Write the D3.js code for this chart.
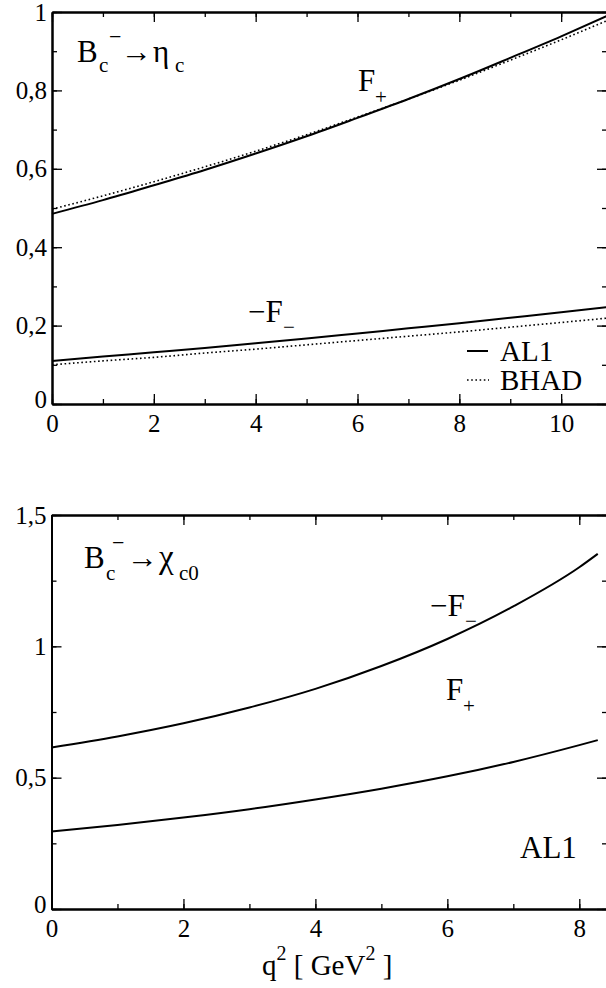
<!DOCTYPE html>
<html>
<head>
<meta charset="utf-8">
<script src="https://cdn.jsdelivr.net/npm/d3@7/dist/d3.min.js"></script>
<style>
  html, body { margin: 0; padding: 0; background: #fff; }
</style>
</head>
<body>
<svg id="chart" width="606" height="988"></svg>
<script>
// Form factors versus q^2 for Bc -> eta_c (top) and Bc -> chi_c0 (bottom)
const q2Top = [0, 1, 2, 3, 4, 5, 6, 7, 8, 9, 10, 10.9];
const etaFplusAL1   = [0.485, 0.520, 0.558, 0.597, 0.639, 0.683, 0.730, 0.778, 0.829, 0.883, 0.938, 0.990];
const etaFplusBHAD  = [0.497, 0.531, 0.567, 0.605, 0.645, 0.687, 0.732, 0.778, 0.826, 0.877, 0.929, 0.978];
const etaFminusAL1  = [0.110, 0.121, 0.132, 0.143, 0.155, 0.167, 0.180, 0.193, 0.206, 0.220, 0.234, 0.247];
const etaFminusBHAD = [0.100, 0.110, 0.119, 0.130, 0.140, 0.151, 0.162, 0.173, 0.184, 0.196, 0.208, 0.219];

const q2Bottom = [0, 1, 2, 3, 4, 5, 6, 7, 8, 8.28];
const chiFminusAL1 = [0.615, 0.657, 0.707, 0.767, 0.838, 0.925, 1.028, 1.152, 1.301, 1.352];
const chiFplusAL1  = [0.295, 0.320, 0.348, 0.380, 0.417, 0.458, 0.505, 0.560, 0.624, 0.643];

const topXTicks = [0, 2, 4, 6, 8, 10];
const topYTicks = [0, 0.2, 0.4, 0.6, 0.8, 1];
const bottomXTicks = [0, 2, 4, 6, 8];
const bottomYTicks = [0, 0.5, 1, 1.5];

const FONT = '"Liberation Serif"';
const svg = d3.select("#chart");
const fmt = v => String(v).replace(".", ",");

function panel(o) {
  const x = d3.scaleLinear().domain(o.xDomain).range([o.left, o.right]);
  const y = d3.scaleLinear().domain(o.yDomain).range([o.bottom, o.top]);
  const g = svg.append("g");

  const styleAxis = sel => {
    sel.attr("font-family", null).attr("font-size", null);
    sel.selectAll("path.domain").attr("stroke", "#000").attr("stroke-width", 2);
    sel.selectAll(".tick line").attr("stroke", "#000").attr("stroke-width", 1.3);
    sel.selectAll(".tick text").style("font-family", FONT).style("font-size", "25px").attr("fill", "#000");
  };

  // minor ticks on all four sides
  const minX = d3.range(o.xDomain[0], o.xDomain[1] + 1e-9, o.xMinor);
  const minY = d3.range(o.yDomain[0], o.yDomain[1] + 1e-9, o.yMinor);
  [[d3.axisBottom(x), o.bottom], [d3.axisTop(x), o.top]].forEach(([ax, pos]) => {
    g.append("g").attr("transform", `translate(0,${pos})`)
      .call(ax.tickValues(minX).tickSizeInner(-5).tickSizeOuter(0).tickFormat(""))
      .call(styleAxis);
  });
  [[d3.axisLeft(y), o.left], [d3.axisRight(y), o.right]].forEach(([ax, pos]) => {
    g.append("g").attr("transform", `translate(${pos},0)`)
      .call(ax.tickValues(minY).tickSizeInner(-5).tickSizeOuter(0).tickFormat(""))
      .call(styleAxis);
  });

  // major ticks
  g.append("g").attr("transform", `translate(0,${o.bottom})`)
    .call(d3.axisBottom(x).tickValues(o.xTicks).tickSizeInner(-10).tickSizeOuter(0).tickPadding(10).tickFormat(fmt))
    .call(styleAxis);
  g.append("g").attr("transform", `translate(0,${o.top})`)
    .call(d3.axisTop(x).tickValues(o.xTicks).tickSizeInner(-10).tickSizeOuter(0).tickFormat(""))
    .call(styleAxis);
  const yAx = g.append("g").attr("transform", `translate(${o.left},0)`)
    .call(d3.axisLeft(y).tickValues(o.yTicks).tickSizeInner(-10).tickSizeOuter(0).tickPadding(5).tickFormat(fmt))
    .call(styleAxis);
  g.append("g").attr("transform", `translate(${o.right},0)`)
    .call(d3.axisRight(y).tickValues(o.yTicks).tickSizeInner(-10).tickSizeOuter(0).tickFormat(""))
    .call(styleAxis);

  // the y "0" label sits slightly raised in the corner
  yAx.selectAll(".tick text").filter(d => d === 0).attr("dy", "0.15em");

  const line = d3.line().x(d => x(d[0])).y(d => y(d[1])).curve(d3.curveMonotoneX);
  o.series.forEach(s => {
    g.append("path")
      .datum(s.q2.map((q, i) => [q, s.values[i]]))
      .attr("d", line)
      .attr("fill", "none")
      .attr("stroke", "#000")
      .attr("stroke-width", s.dotted ? 1.6 : 2)
      .attr("stroke-dasharray", s.dotted ? "1.6,2.6" : null);
  });
  return { x, y, g };
}

// top panel
panel({
  left: 52, right: 607, top: 12, bottom: 404,
  xDomain: [0, 10.9], yDomain: [0, 1],
  xTicks: topXTicks, yTicks: topYTicks, xMinor: 1, yMinor: 0.1,
  series: [
    { q2: q2Top, values: etaFplusBHAD, dotted: true },
    { q2: q2Top, values: etaFminusBHAD, dotted: true },
    { q2: q2Top, values: etaFplusAL1 },
    { q2: q2Top, values: etaFminusAL1 }
  ]
});

// bottom panel
panel({
  left: 51.5, right: 607, top: 515, bottom: 909,
  xDomain: [0, 8.42], yDomain: [0, 1.5],
  xTicks: bottomXTicks, yTicks: bottomYTicks, xMinor: 1, yMinor: 0.25,
  series: [
    { q2: q2Bottom, values: chiFminusAL1 },
    { q2: q2Bottom, values: chiFplusAL1 }
  ]
});

function txt(xp, yp, s, size, anchor) {
  return svg.append("text").attr("x", xp).attr("y", yp)
    .style("font-family", FONT).style("font-size", size + "px")
    .attr("text-anchor", anchor || "start")
    .attr("fill", "#000").text(s);
}

// process labels
txt(77, 62, "B", 31); txt(99, 72, "c", 21); txt(109, 44, "\u2212", 22);
txt(121, 62, "\u2192", 31); txt(153, 62, "\u03B7", 31); txt(175, 72, "c", 21);

txt(84, 568, "B", 31); txt(106, 580, "c", 21); txt(112, 550, "\u2212", 22);
txt(127, 568, "\u2192", 31); txt(159, 568, "\u03C7", 33); txt(179, 580, "c0", 21);

// curve labels
txt(358, 91, "F", 31); txt(375, 104, "+", 21);
txt(248, 322, "\u2212F", 31); txt(283, 334, "\u2212", 21);
txt(430, 616, "\u2212F", 31); txt(465, 628, "\u2212", 21);
txt(446, 700, "F", 31); txt(463, 713, "+", 21);

// legend
svg.append("line").attr("x1", 467).attr("x2", 488).attr("y1", 351).attr("y2", 351)
  .attr("stroke", "#000").attr("stroke-width", 2);
txt(500, 361, "AL1", 29);
svg.append("line").attr("x1", 467).attr("x2", 489).attr("y1", 380).attr("y2", 380)
  .attr("stroke", "#000").attr("stroke-width", 1.6).attr("stroke-dasharray", "1.6,2.6");
txt(500, 390, "BHAD", 29);

txt(520, 858, "AL1", 31);

// x-axis title
const xt = svg.append("text").attr("x", 262).attr("y", 975)
  .style("font-family", FONT).style("font-size", "29px").attr("fill", "#000");
xt.append("tspan").text("q");
xt.append("tspan").style("font-size", "20px").attr("dy", -15).text("2");
xt.append("tspan").attr("dy", 15).text(" [ GeV");
xt.append("tspan").style("font-size", "20px").attr("dy", -15).text("2");
xt.append("tspan").attr("dy", 15).text(" ]");
</script>
</body>
</html>
